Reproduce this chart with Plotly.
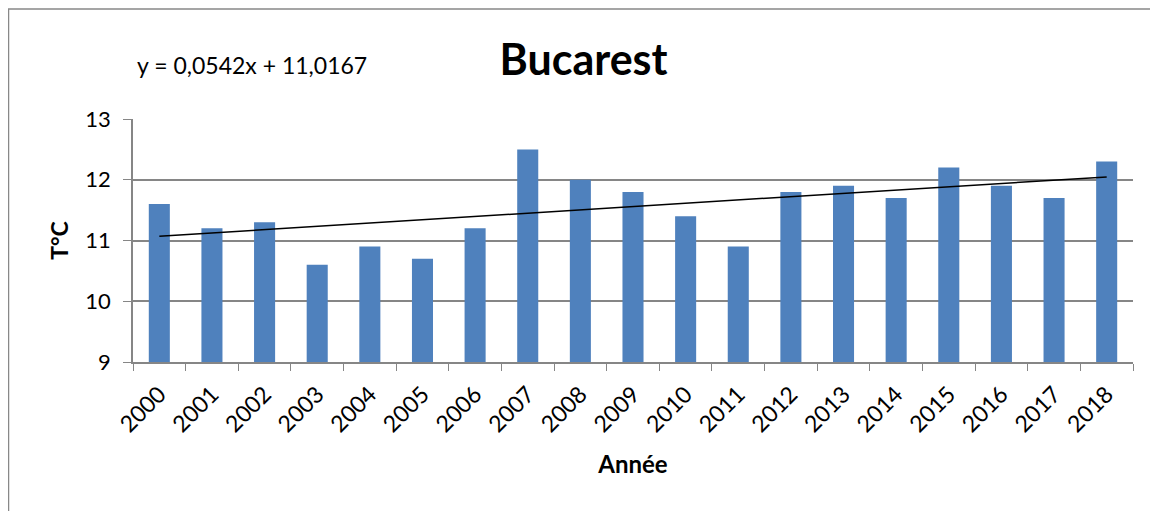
import plotly.graph_objects as go

years = [str(y) for y in range(2000, 2019)]
temps = [11.6, 11.2, 11.3, 10.6, 10.9, 10.7, 11.2, 12.5, 12.0, 11.8,
         11.4, 10.9, 11.8, 11.9, 11.7, 12.2, 11.9, 11.7, 12.3]
slope, intercept = 0.0542, 11.0167
trend = [slope * (i + 1) + intercept for i in range(len(years))]

FONT = "Lato, Carlito, Calibri, sans-serif"
GRID = "#868686"

fig = go.Figure()
fig.add_trace(go.Bar(x=years, y=temps, marker=dict(color="#4F81BD", line=dict(width=0)),
                     width=0.4, showlegend=False))
fig.add_trace(go.Scatter(x=years, y=trend, mode="lines", line=dict(color="black", width=1.5),
                         showlegend=False))

fig.update_layout(
    width=1158, height=511,
    margin=dict(l=125, r=33, t=111, b=157),
    paper_bgcolor="white", plot_bgcolor="white",
    font=dict(family=FONT, color="black", size=20),
    title=dict(text="<b>Bucarest</b>", x=0.497, xanchor="center", y=0.898, yanchor="middle",
               font=dict(size=43)),
    bargap=0.6,
    annotations=[dict(text="y = 0,0542x + 11,0167", xref="paper", yref="paper",
                      x=0.002, y=1.223, xanchor="left", yanchor="middle", showarrow=False,
                      font=dict(size=23))],
    shapes=[dict(type="rect", xref="paper", yref="paper", x0=-0.1245, x1=1.04, y0=-0.7, y1=1.4527,
                 line=dict(color="#888888", width=1.5))],
)
fig.update_xaxes(type="category", tickangle=-45, ticks="outside", tickson="boundaries",
                 ticklen=7, tickcolor=GRID, showline=True, linecolor=GRID, linewidth=1.5,
                 showgrid=False, ticklabelstandoff=8,
                 title=dict(text="<b>Année</b>", font=dict(size=24), standoff=20),
                 tickfont=dict(size=23))
fig.update_yaxes(range=[9, 13], dtick=1, ticks="outside", ticklen=8, tickcolor=GRID,
                 showline=True, linecolor=GRID, linewidth=1.5, showgrid=True, gridcolor=GRID,
                 gridwidth=1.5, zeroline=False, ticklabelstandoff=8,
                 title=dict(text="<b>T°C</b>", font=dict(size=23), standoff=10),
                 tickfont=dict(size=22))

fig.write_html("out.html")
